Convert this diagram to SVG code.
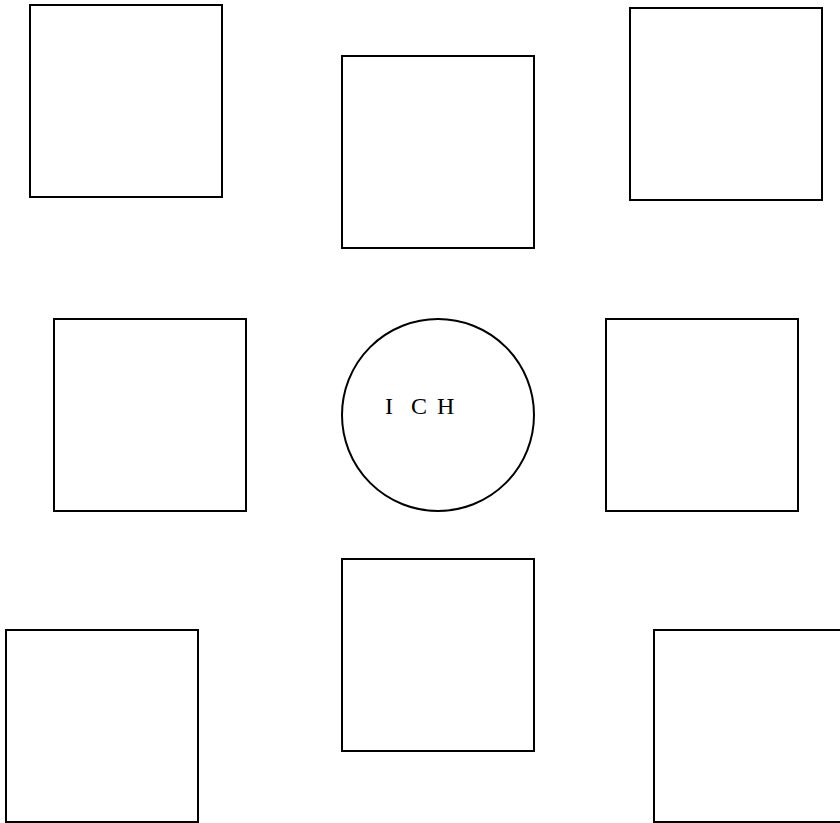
<svg xmlns="http://www.w3.org/2000/svg" width="840" height="823" viewBox="0 0 840 823">
<style>
.b{fill:#fff;stroke:#000;stroke-width:2}
.t{font-family:"Liberation Serif",serif;font-size:24px;fill:#000}
</style>
<rect width="840" height="823" fill="#fff"/>
<g id="n1"><rect class="b" x="30" y="5" width="192" height="192"/></g>
<g id="n2"><rect class="b" x="342" y="56" width="192" height="192"/></g>
<g id="n3"><rect class="b" x="630" y="8" width="192" height="192"/></g>
<g id="n4"><rect class="b" x="54" y="319" width="192" height="192"/></g>
<g id="n5"><circle class="b" cx="438" cy="415" r="96"/><text class="t"><tspan x="385" y="414">I</tspan><tspan x="411" y="414">C</tspan><tspan x="437" y="414">H</tspan></text></g>
<g id="n6"><rect class="b" x="606" y="319" width="192" height="192"/></g>
<g id="n7"><rect class="b" x="342" y="559" width="192" height="192"/></g>
<g id="n8"><rect class="b" x="6" y="630" width="192" height="192"/></g>
<g id="n9"><rect class="b" x="654" y="630" width="192" height="192"/></g>
<g id="connectors"></g>
</svg>
